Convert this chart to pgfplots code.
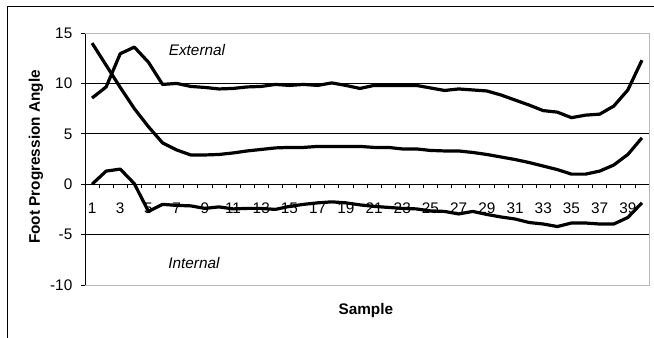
\documentclass[border=0pt]{standalone}
\usepackage{pgfplots}
\usepackage{pgfplotstable}
\pgfplotsset{compat=1.18}
\usepackage{fontspec}
\setmainfont{Liberation Sans}
\newcommand\cf{\fontsize{11.5pt}{13.8pt}\selectfont}

\pgfplotstableread{
x A B C
1 14.0 8.55 0.0
2 11.8 9.65 1.3
3 9.6 12.95 1.5
4 7.5 13.6 0.05
5 5.7 12.1 -2.7
6 4.1 9.9 -2.0
7 3.4 10.0 -2.1
8 2.9 9.7 -2.15
9 2.9 9.6 -2.4
10 2.95 9.45 -2.25
11 3.1 9.5 -2.45
12 3.3 9.65 -2.4
13 3.45 9.7 -2.4
14 3.6 9.9 -2.5
15 3.65 9.8 -2.2
16 3.65 9.9 -2.0
17 3.75 9.8 -1.85
18 3.75 10.05 -1.75
19 3.75 9.8 -1.85
20 3.75 9.5 -2.05
21 3.65 9.8 -2.2
22 3.65 9.8 -2.3
23 3.5 9.8 -2.4
24 3.5 9.8 -2.45
25 3.35 9.55 -2.65
26 3.3 9.3 -2.7
27 3.3 9.45 -2.95
28 3.15 9.35 -2.7
29 2.95 9.25 -3.0
30 2.7 8.85 -3.25
31 2.45 8.35 -3.45
32 2.15 7.85 -3.8
33 1.8 7.3 -3.95
34 1.45 7.15 -4.2
35 1.0 6.6 -3.85
36 1.0 6.85 -3.85
37 1.3 6.95 -3.95
38 1.9 7.75 -3.95
39 2.95 9.35 -3.3
40 4.6 12.3 -1.85
}\datatable

\begin{document}
\begin{tikzpicture}
\path[use as bounding box] (0pt,0pt) rectangle (490.5pt,-252.75pt);
\draw[line width=0.8pt] (5.4pt,-260pt) -- (5.4pt,-4.7pt) -- (495pt,-4.7pt);
\begin{axis}[
  at={(63.75pt,-213.75pt)}, anchor=south west,
  scale only axis, width=423pt, height=189pt,
  xmin=0.5, xmax=40.5, ymin=-10, ymax=15,
  axis x line*=middle, axis y line*=left,
  hide obscured x ticks=false,
  axis line style={black, line width=0.6pt},
  tick align=outside,
  major tick length=3pt,
  tick style={black, line width=0.6pt},
  xtick={0.5,1.5,...,40.5},
  xticklabels={1,{},3,{},5,{},7,{},9,{},11,{},13,{},15,{},17,{},19,{},21,{},23,{},25,{},27,{},29,{},31,{},33,{},35,{},37,{},39,{},{}},
  xticklabel style={font=\cf, xshift=5.29pt, yshift=-7.5pt},
  ytick={-10,-5,0,5,10,15},
  yticklabels={-10,-5,0,5,10,15},
  yticklabel style={font=\cf, xshift=-3pt},
  xlabel={\textbf{Sample}},
  ylabel={\textbf{Foot Progression Angle}},
  xlabel style={font=\cf, at={(axis description cs:0.498,-0.103)}, anchor=center},
  ylabel style={font=\cf, at={(axis description cs:-0.087,0.508)}, anchor=center, rotate=0},
  clip=false,
]
\draw[gray!55, line width=0.75pt] (rel axis cs:0,1) -- (rel axis cs:1,1) -- (rel axis cs:1,0) -- (rel axis cs:0,0);
\draw[black, line width=0.6pt] (axis cs:0.5,10) -- (axis cs:40.5,10);
\draw[black, line width=0.6pt] (axis cs:0.5,5) -- (axis cs:40.5,5);
\draw[black, line width=0.6pt] (axis cs:0.5,-5) -- (axis cs:40.5,-5);
\addplot[black, line width=2.4pt, line join=round, no markers] table[x=x, y=A] {\datatable};
\addplot[black, line width=2.4pt, line join=round, no markers] table[x=x, y=B] {\datatable};
\addplot[black, line width=2.4pt, line join=round, no markers] table[x=x, y=C] {\datatable};
\node[font=\cf\itshape] at (axis cs:8.44,13.3) {External};
\node[font=\cf\itshape] at (axis cs:8.23,-7.84) {Internal};
\end{axis}
\end{tikzpicture}
\end{document}
